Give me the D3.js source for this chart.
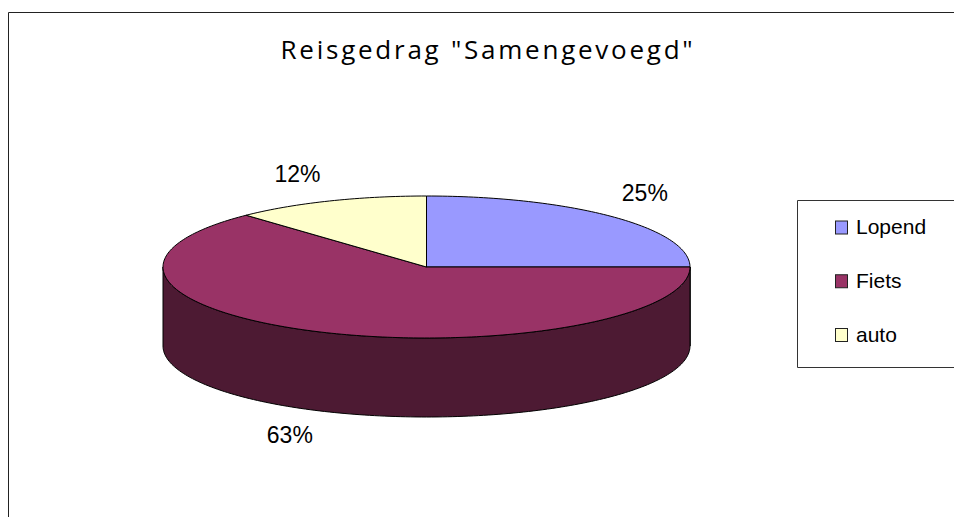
<!DOCTYPE html>
<html>
<head>
<meta charset="utf-8">
<style>
html, body { margin: 0; padding: 0; background: #fff; overflow: hidden; }
svg { display: block; }
</style>
<script src="https://cdn.jsdelivr.net/npm/d3@7"></script>
</head>
<body>
<svg id="chart" width="954" height="517"></svg>
<script>
var categories = ['Lopend', 'Fiets', 'auto'];
var shares = [25, 63, 12];
var sliceColors = ['#9999FF', '#993366', '#FFFFCC'];
var wallColors = ['#4D4D80', '#4D1A33', '#808066'];
var titleText = 'Reisgedrag "Samengevoegd"';

var pieGeom = { cx: 426.5, cy: 267, rx: 263.5, ry: 71, depth: 79 };
// label nudge from the rim point of each slice
var labelNudge = [[32, -16], [-32, 111], [-32, -19]];

var svg = d3.select('#chart');

// outer frame, runs off the right and bottom of the picture
svg.append('path')
	.attr('d', 'M8.5,517V12.5H954')
	.attr('fill', 'none')
	.attr('stroke', '#222')
	.attr('stroke-width', 1);

var title = svg.append('text')
	.attr('x', 488)
	.attr('y', 59)
	.attr('text-anchor', 'middle')
	.attr('font-family', '"Open Sans", sans-serif')
	.attr('font-size', 26)
	.attr('letter-spacing', 2.75)
	.attr('fill', '#000')
	.text(titleText);

////////// Pie ////////
var pie = d3.pie().sort(null);
var slices = pie(shares);

var xScale = d3.scaleLinear().domain([-1, 1]).range([pieGeom.cx - pieGeom.rx, pieGeom.cx + pieGeom.rx]);
var yScale = d3.scaleLinear().domain([-1, 1]).range([pieGeom.cy - pieGeom.ry, pieGeom.cy + pieGeom.ry]);

function rimPoint(a, drop) {
	return [xScale(Math.sin(a)), yScale(-Math.cos(a)) + drop];
}

function sampleAngles(a0, a1) {
	var n = Math.max(2, Math.ceil((a1 - a0) / 0.02));
	return d3.range(n + 1).map(function(i) { return a0 + (a1 - a0) * i / n; });
}

var line = d3.line();

// side wall: only the front half of the rim shows
slices.forEach(function(d, i) {
	var a0 = Math.max(d.startAngle, Math.PI / 2);
	var a1 = Math.min(d.endAngle, Math.PI * 1.5);
	if (a1 <= a0) return;
	var angles = sampleAngles(a0, a1);
	var top = angles.map(function(a) { return rimPoint(a, 0); });
	var bottom = angles.slice().reverse().map(function(a) { return rimPoint(a, pieGeom.depth); });
	svg.append('path')
		.attr('d', line(top.concat(bottom)) + 'Z')
		.attr('fill', wallColors[i])
		.attr('stroke', '#000')
		.attr('stroke-width', 1)
		.attr('stroke-linejoin', 'round');
});

// top face
svg.selectAll('path.slice')
	.data(slices)
	.enter()
	.append('path')
	.attr('class', 'slice')
	.attr('d', function(d) {
		var pts = sampleAngles(d.startAngle, d.endAngle).map(function(a) { return rimPoint(a, 0); });
		return line([[pieGeom.cx, pieGeom.cy]].concat(pts)) + 'Z';
	})
	.attr('fill', function(d, i) { return sliceColors[i]; })
	.attr('stroke', '#000')
	.attr('stroke-width', 1)
	.attr('stroke-linejoin', 'round');

svg.selectAll('text.pct')
	.data(slices)
	.enter()
	.append('text')
	.attr('class', 'pct')
	.attr('x', function(d, i) { return rimPoint((d.startAngle + d.endAngle) / 2, 0)[0] + labelNudge[i][0]; })
	.attr('y', function(d, i) { return rimPoint((d.startAngle + d.endAngle) / 2, 0)[1] + labelNudge[i][1]; })
	.attr('text-anchor', 'middle')
	.attr('font-family', '"Liberation Sans", Arial, sans-serif')
	.attr('font-size', 23)
	.attr('fill', '#000')
	.text(function(d) { return d.value + '%'; });

////////// Legend ////////
svg.append('path')
	.attr('d', 'M954,200.5H797.5V367.5H954')
	.attr('fill', '#fff')
	.attr('stroke', '#333')
	.attr('stroke-width', 1);

var legendY = d3.scalePoint().domain(categories).range([227.5, 335]);

var legendRows = svg.selectAll('g.legendRow')
	.data(categories)
	.enter()
	.append('g')
	.attr('class', 'legendRow')
	.attr('transform', function(d) { return 'translate(0,' + legendY(d) + ')'; });

legendRows.append('rect')
	.attr('x', 835.5)
	.attr('y', -6.5)
	.attr('width', 12)
	.attr('height', 13)
	.attr('fill', function(d, i) { return sliceColors[i]; })
	.attr('stroke', '#222')
	.attr('stroke-width', 1);

legendRows.append('text')
	.attr('x', 856)
	.attr('y', 6.5)
	.attr('font-family', '"Liberation Sans", Arial, sans-serif')
	.attr('font-size', 21)
	.attr('fill', '#000')
	.text(function(d) { return d; });
</script>
</body>
</html>
